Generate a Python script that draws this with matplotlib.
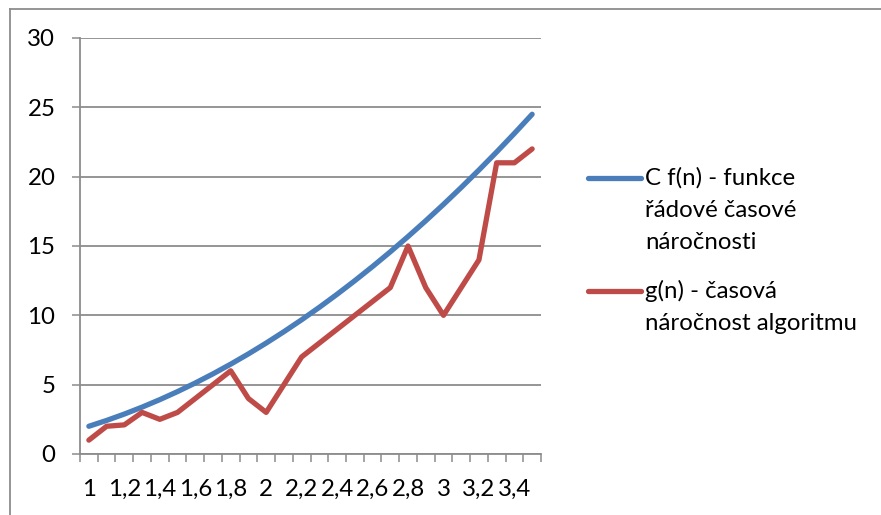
import matplotlib
matplotlib.use("Agg")
import matplotlib.pyplot as plt
from matplotlib.lines import Line2D
import numpy as np

plt.rcParams['font.family'] = ['Lato', 'DejaVu Sans']

# data
n_values = ["1", "1,1", "1,2", "1,3", "1,4", "1,5", "1,6", "1,7", "1,8", "1,9",
            "2", "2,1", "2,2", "2,3", "2,4", "2,5", "2,6", "2,7", "2,8", "2,9",
            "3", "3,1", "3,2", "3,3", "3,4", "3,5"]
cf_n = [2, 2.42, 2.88, 3.38, 3.92, 4.5, 5.12, 5.78, 6.48, 7.22,
        8, 8.82, 9.68, 10.58, 11.52, 12.5, 13.52, 14.58, 15.68, 16.82,
        18, 19.22, 20.48, 21.78, 23.12, 24.5]
g_n = [1, 2, 2.1, 3, 2.5, 3, 4, 5, 6, 4,
       3, 5, 7, 8, 9, 10, 11, 12, 15, 12,
       10, 12, 14, 21, 21, 22]
legend_lines = [["C f(n) - funkce", "řádové časové", "náročnosti"],
                ["g(n) - časová", "náročnost algoritmu"]]

blue = "#4A7EBB"
red = "#BE4B48"
grey = "#8C8C8C"
fs = 17.3
W, H = 881, 515

fig = plt.figure(figsize=(W / 100, H / 100), dpi=100)
ax = fig.add_axes([80 / W, 1 - 454 / H, (541 - 80) / W, (454 - 38) / H])

x = np.arange(len(n_values)) + 0.5
ax.plot(x, cf_n, color=blue, lw=3.8, solid_capstyle='round', solid_joinstyle='round', zorder=3)
ax.plot(x, g_n, color=red, lw=3.8, solid_capstyle='round', solid_joinstyle='round', zorder=3)

ax.set_xlim(0, len(n_values))
ax.set_ylim(0, 30)
ax.set_yticks(np.arange(0, 31, 5))
ax.yaxis.grid(True, color=grey, lw=1.3)
ax.set_axisbelow(True)

ax.set_xticks(np.arange(0, len(n_values) + 1))
ax.set_xticklabels([])
ax.set_xticks(x[::2], minor=True)
ax.set_xticklabels(n_values[::2], minor=True)
ax.tick_params(axis='x', which='major', direction='out', length=5.8, width=1.1, color=grey)
ax.tick_params(axis='x', which='minor', length=0, pad=18, labelsize=fs)
ax.tick_params(axis='y', direction='out', length=5.8, width=1.1, color=grey, pad=12, labelsize=fs)

for s in ['top', 'right']:
    ax.spines[s].set_visible(False)
for s in ['left', 'bottom']:
    ax.spines[s].set_color(grey)
    ax.spines[s].set_linewidth(1.3)

# chart area border (top and left visible)
fig.add_artist(Line2D([10 / W, 1.0], [1 - 9 / H, 1 - 9 / H], transform=fig.transFigure, color=grey, lw=1.3))
fig.add_artist(Line2D([10 / W, 10 / W], [0, 1 - 9 / H], transform=fig.transFigure, color=grey, lw=1.3))

# legend
entry_tops = [185, 298]
for color, lines, base in zip([blue, red], legend_lines, entry_tops):
    fig.add_artist(Line2D([588 / W, 641 / W], [1 - (base - 7) / H] * 2, transform=fig.transFigure,
                          color=color, lw=3.8, solid_capstyle='round'))
    for i, t in enumerate(lines):
        fig.text(645 / W, 1 - (base + i * 32) / H, t, fontsize=fs, ha='left', va='baseline')

fig.savefig("out.png", dpi=100)
